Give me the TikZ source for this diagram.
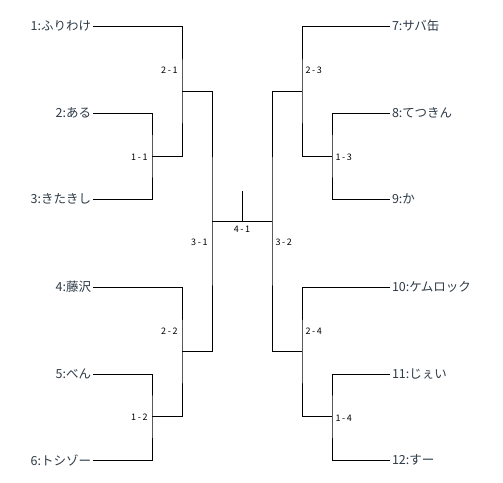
\documentclass[tikz,border=0pt]{standalone}
\usepackage{fontspec}
\setmainfont{Noto Sans CJK JP}
\newfontfamily\lblfont[LetterSpace=18]{Noto Sans CJK JP}
\definecolor{nametext}{HTML}{2E3B47}
\begin{document}
\begin{tikzpicture}[x=1pt,y=-1pt,line width=1pt,
  lname/.style={anchor=east,inner sep=1.5pt,text=nametext,font=\fontsize{12.5}{14}\selectfont},
  rname/.style={anchor=west,inner sep=1.5pt,text=nametext,font=\fontsize{12.5}{14}\selectfont},
  llbl/.style={anchor=east,inner sep=1pt,font=\lblfont\fontsize{9}{10}\selectfont},
  rlbl/.style={anchor=west,inner sep=1pt,font=\lblfont\fontsize{9}{10}\selectfont},
  clbl/.style={anchor=center,inner sep=1pt,font=\lblfont\fontsize{9}{10}\selectfont}]
\useasboundingbox (0,0) rectangle (503,482);
\fill[white] (0,0) rectangle (503,482);
% players
\node[lname] (p1) at (93,26) {1:ふりわけ};
\node[lname] (p2) at (93,113) {2:ある};
\node[lname] (p3) at (93,199) {3:きたきし};
\node[lname] (p4) at (93,287) {4:藤沢};
\node[lname] (p5) at (93,374) {5:べん};
\node[lname] (p6) at (93,460) {6:トシゾー};
\node[rname] (p7) at (390,26) {7:サバ缶};
\node[rname] (p8) at (390,113) {8:てつきん};
\node[rname] (p9) at (390,199) {9:か};
\node[rname] (p10) at (390,287) {10:ケムロック};
\node[rname] (p11) at (390,374) {11:じぇい};
\node[rname] (p12) at (390,460) {12:すー};
% junctions
\coordinate (j11) at (152,156);
\coordinate (j12) at (152,416);
\coordinate (j21) at (182,91);
\coordinate (j22) at (182,351);
\coordinate (j31) at (212,221);
\coordinate (j13) at (332,156);
\coordinate (j14) at (332,416);
\coordinate (j23) at (302,91);
\coordinate (j24) at (302,351);
\coordinate (j32) at (272,221);
\coordinate (jc) at (242,221);
\coordinate (jtop) at (242,191);
% left brackets
\draw (p2.east) -| (j11) |- (p3.east);
\draw (p1.east) -| (j21) |- (j11);
\draw (p5.east) -| (j12) |- (p6.east);
\draw (p4.east) -| (j22) |- (j12);
\draw (j21) -| (j31) |- (j22);
% right brackets
\draw (p8.west) -| (j13) |- (p9.west);
\draw (p7.west) -| (j23) |- (j13);
\draw (p11.west) -| (j14) |- (p12.west);
\draw (p10.west) -| (j24) |- (j14);
\draw (j23) -| (j32) |- (j24);
% final
\draw (j31) -- (j32);
\draw (jc) -- (jtop);
% match labels
\node[llbl] (l21) at (179,70) {2-1};
\node[llbl] (l11) at (149,157) {1-1};
\node[llbl] (l31) at (209,242) {3-1};
\node[llbl] (l22) at (179,331) {2-2};
\node[llbl] (l12) at (149,417) {1-2};
\node[clbl] (l41) at (242,229) {4-1};
\node[rlbl] (l23) at (304,70) {2-3};
\node[rlbl] (l13) at (334,157) {1-3};
\node[rlbl] (l32) at (274,242) {3-2};
\node[rlbl] (l24) at (304,331) {2-4};
\node[rlbl] (l14) at (334,418) {1-4};
\end{tikzpicture}
\end{document}
